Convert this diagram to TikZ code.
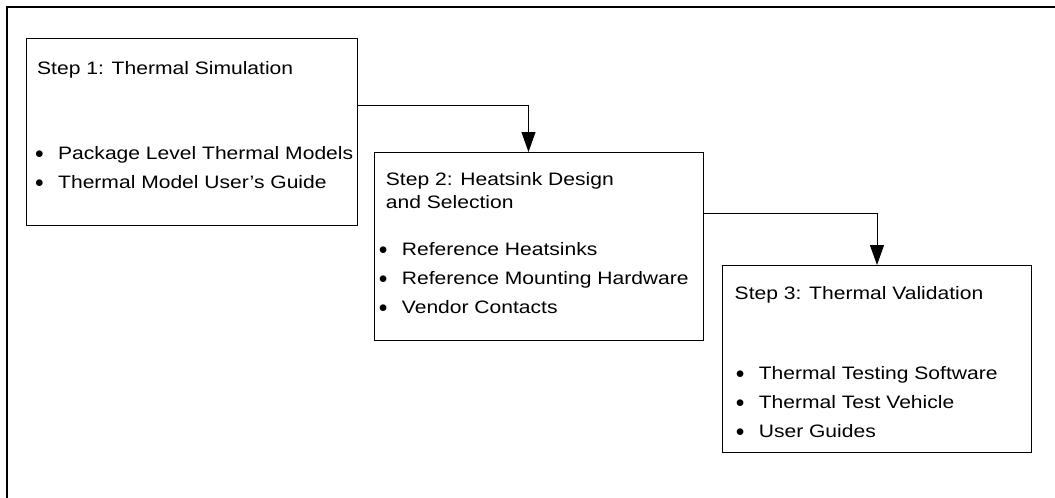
\documentclass[tikz,border=0pt]{standalone}
\usepackage{fontspec}
\setmainfont{Liberation Sans}[FakeStretch=1.17]
\usetikzlibrary{arrows.meta,positioning}
\newcommand{\bul}[1]{\makebox[23pt][l]{\raisebox{1pt}{$\bullet$}}#1}

\begin{document}
\begin{tikzpicture}[x=1pt,y=-1pt,
    stepbox/.style={draw,line width=1pt,anchor=north west,inner sep=0pt},
    txt/.style={anchor=base west,inner sep=0pt,font=\fontsize{18}{22}\selectfont},
    flow/.style={line width=1pt,-{Triangle[length=20pt,width=14pt]}}]
      \useasboundingbox (0,0) rectangle (1055,498);
      % frame
      \draw[line width=2pt] (6.7,498) -- (6.7,6.7) -- (1055,6.7);

      % boxes
      \node[stepbox,minimum width=331,minimum height=187] (s1) at (26,38) {};
      \node[stepbox,minimum width=329,minimum height=188] (s2) at (374,152) {};
      \node[stepbox,minimum width=309,minimum height=187] (s3) at (722,265) {};

      % step 1
      \node[txt] (t1) at (37,74) {Step 1: Thermal Simulation};
      \node[txt] (i11) at (35,159) {\bul{Package Level Thermal Models}};
      \node[txt] (i12) at (35,188) {\bul{Thermal Model User’s Guide}};

      % step 2
      \node[txt] (t2a) at (385.7,185) {Step 2: Heatsink Design};
      \node[txt] (t2b) at (385.7,208.5) {and Selection};
      \node[txt] (i21) at (378.7,255) {\bul{Reference Heatsinks}};
      \node[txt] (i22) at (378.7,284) {\bul{Reference Mounting Hardware}};
      \node[txt] (i23) at (378.7,313) {\bul{Vendor Contacts}};

      % step 3
      \node[txt] (t3) at (734.5,299) {Step 3: Thermal Validation};
      \node[txt] (i31) at (735.6,379) {\bul{Thermal Testing Software}};
      \node[txt] (i32) at (735.6,408) {\bul{Thermal Test Vehicle}};
      \node[txt] (i33) at (735.6,437) {\bul{User Guides}};

      \draw[flow] ([yshift=26.5pt]s1.east) -| ([xshift=-10.5pt]s2.north);
      \draw[flow] ([yshift=33pt]s2.east) -| (s3.north);
\end{tikzpicture}
\end{document}
